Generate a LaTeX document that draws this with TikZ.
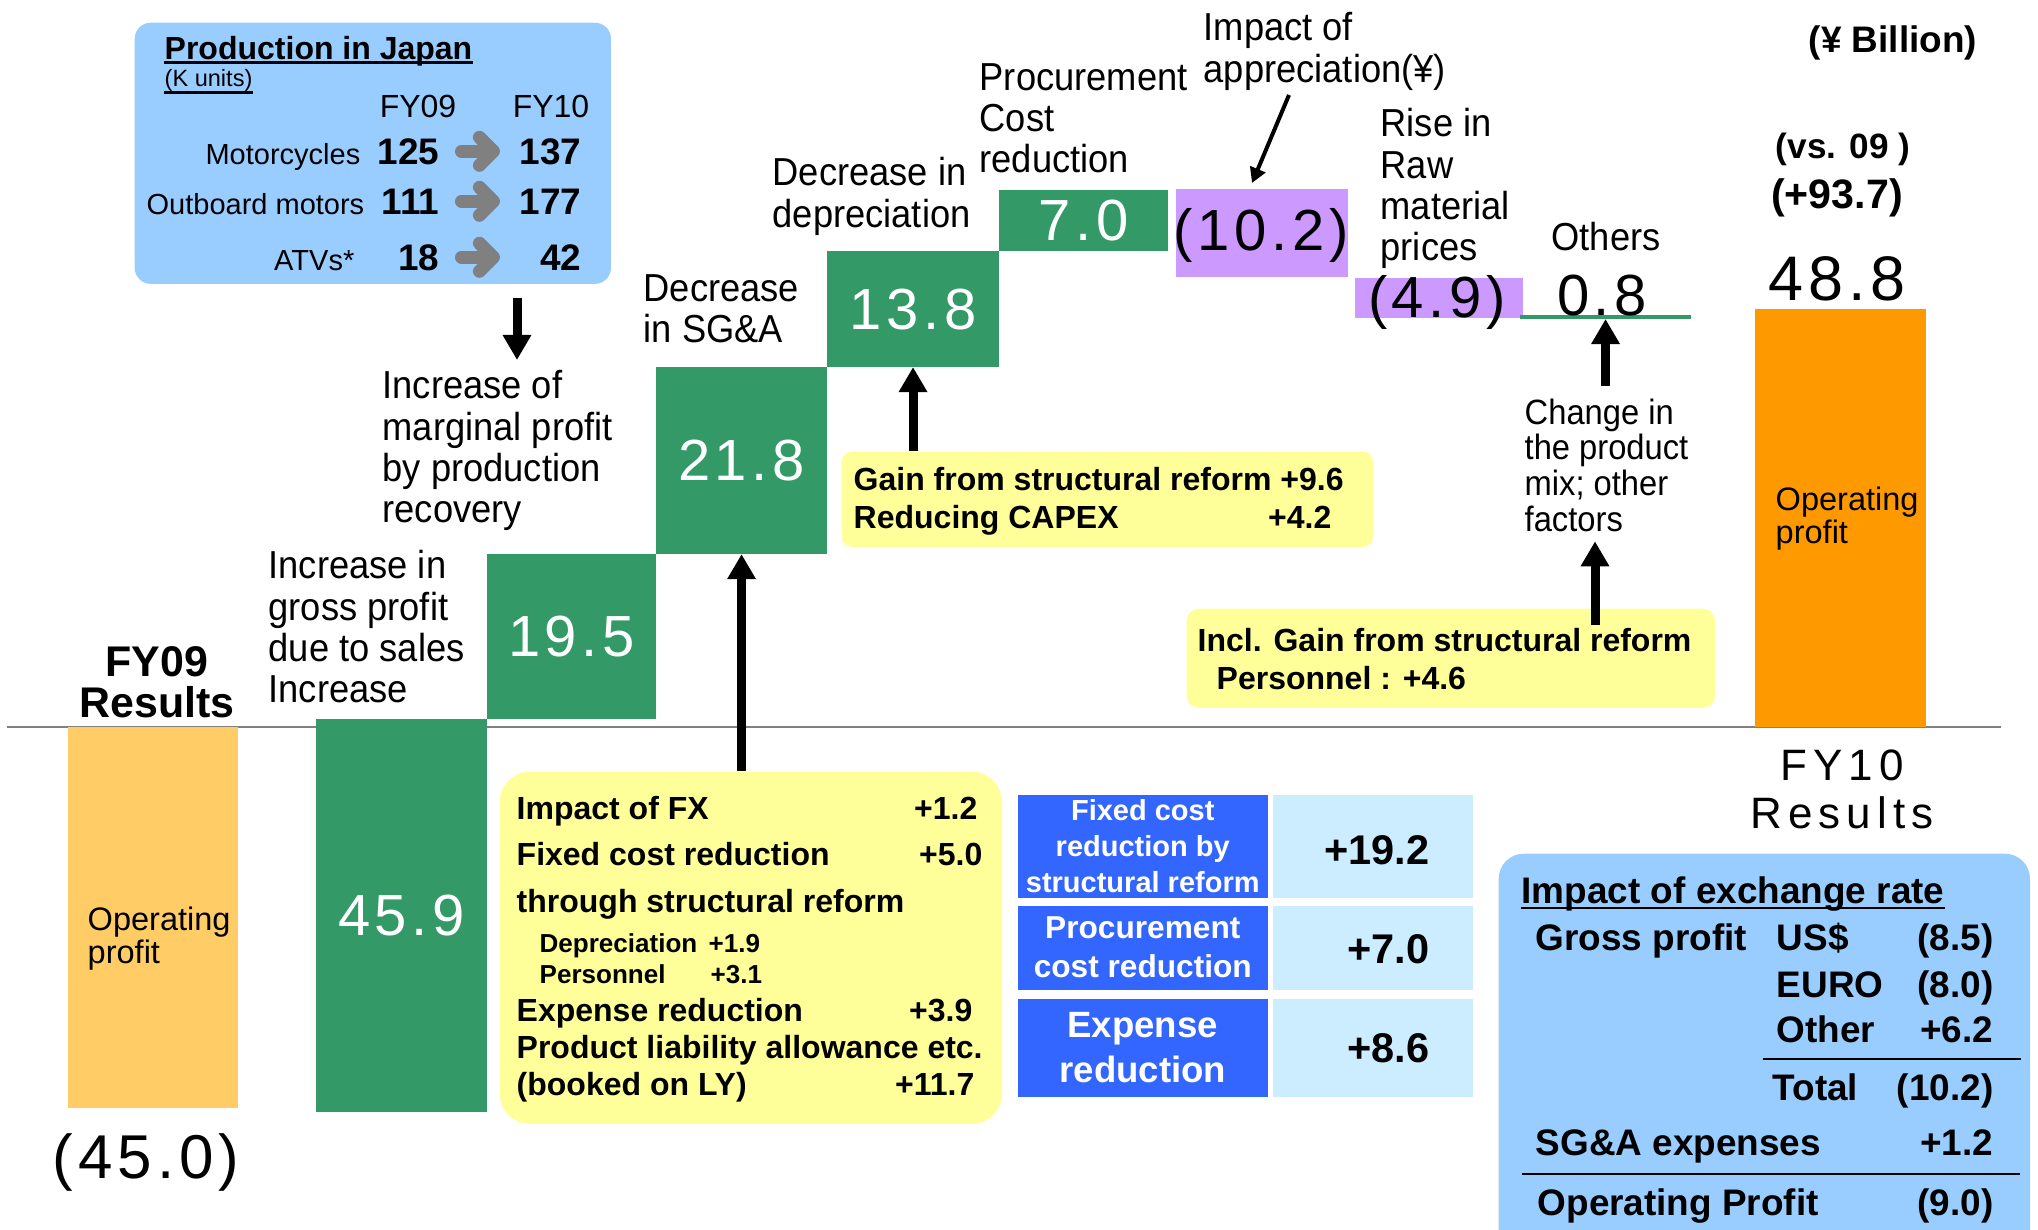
\documentclass[tikz,border=0pt]{standalone}
\usepackage{fontspec}
\setmainfont{Liberation Sans}
\newfontfamily\numfont[LetterSpace=8]{Liberation Sans}
\newfontfamily\widefont[LetterSpace=14]{Liberation Sans}
\newfontfamily\lblfont[FakeStretch=0.93]{Liberation Sans}
\usetikzlibrary{arrows.meta}
\definecolor{wfGreen}{HTML}{339966}
\definecolor{wfPurple}{HTML}{CC99FF}
\definecolor{wfOrange}{HTML}{FF9900}
\definecolor{wfPale}{HTML}{FFCC66}
\definecolor{noteYellow}{HTML}{FFFF99}
\definecolor{boxBlue}{HTML}{99CCFF}
\definecolor{cellBlue}{HTML}{3366FF}
\definecolor{cellPale}{HTML}{CCECFF}
\begin{document}
\begin{tikzpicture}
	[x=0.01cm,y=-0.01cm,
	 bar/.style={inner sep=0,outer sep=0,anchor=north west,text=white,font=\numfont\fontsize{16.5pt}{18pt}\selectfont},
	 val/.style={inner sep=0,anchor=base,font=\numfont\fontsize{16.5pt}{18pt}\selectfont},
	 lbl/.style={inner sep=0,anchor=north west,align=left,font=\lblfont\fontsize{11.1pt}{11.7pt}\selectfont},
	 oplbl/.style={inner sep=0,anchor=north west,align=left,font=\fontsize{9.25pt}{9.4pt}\selectfont},
	 note/.style={fill=noteYellow,inner sep=0,anchor=north west},
	 notetxt/.style={inner sep=0,font=\bfseries\fontsize{9.1pt}{10pt}\selectfont},
	 notesub/.style={inner sep=0,font=\bfseries\fontsize{7.4pt}{8pt}\selectfont},
	 cellD/.style={fill=cellBlue,text=white,inner sep=0,anchor=north west,align=center,minimum width=2.50cm},
	 cellL/.style={fill=cellPale,inner sep=0,anchor=north west,minimum width=2.00cm},
	 cellval/.style={inner sep=0,anchor=east,font=\bfseries\fontsize{11.8pt}{13pt}\selectfont},
	 fxt/.style={inner sep=0,font=\bfseries\fontsize{10.5pt}{12pt}\selectfont},
	 prodtxt/.style={inner sep=0,anchor=base east,font=\fontsize{8.25pt}{9pt}\selectfont},
	 prodnum/.style={inner sep=0,anchor=base east,font=\bfseries\fontsize{10.5pt}{12pt}\selectfont},
	 uline/.style={line width=0.025cm},
	 fatarr/.style={line width=0.09cm,-{Triangle[length=0.25cm,width=0.27cm]}},
	 thinarr/.style={line width=0.04cm,-{Triangle[length=0.15cm,width=0.16cm]}},
	 grayarr/.style={draw=gray,line width=0.13cm,line cap=round,-{Straight Barb[length=0.14cm,width=0.28cm,round]}}]
    \useasboundingbox (0,0) rectangle (2038,1230);
    \clip (0,0) rectangle (2038,1230);

    \draw[gray,line width=0.025cm] (7,727) -- (2001,727);

    \node[bar,fill=wfPale,minimum width=1.70cm,minimum height=3.81cm] (fy09) at (68,727) {};
    \node[bar,fill=wfGreen,minimum width=1.71cm,minimum height=3.93cm] (b459) at (316,719) {45.9};
    \node[bar,fill=wfGreen,minimum width=1.69cm,minimum height=1.65cm] (b195) at (487,554) {19.5};
    \node[bar,fill=wfGreen,minimum width=1.71cm,minimum height=1.87cm] (b218) at (656,367) {21.8};
    \node[bar,fill=wfGreen,minimum width=1.72cm,minimum height=1.16cm] (b138) at (827,251) {13.8};
    \node[bar,fill=wfGreen,minimum width=1.69cm,minimum height=0.61cm] (b070) at (999,190) {7.0};
    \node[bar,fill=wfPurple,minimum width=1.72cm,minimum height=0.88cm] (b102) at (1176,189) {};
    \node[bar,fill=wfPurple,minimum width=1.68cm,minimum height=0.40cm] (b049) at (1355,278) {};
    \node[bar,fill=wfGreen,minimum width=1.71cm,minimum height=0.04cm] (b008) at (1520,315) {};
    \node[bar,fill=wfOrange,minimum width=1.71cm,minimum height=4.18cm] (fy10) at (1755,309) {};

    \node[val] (v102) at (1261,250) {(10.2)};
    \node[val] (v049) at (1437,317) {(4.9)};
    \node[val] (v008) at (1602,315) {0.8};
    \node[val,font=\numfont\fontsize{17.9pt}{19pt}\selectfont] (v488) at (1837,300) {48.8};
    \node[val,font=\numfont\fontsize{17.6pt}{19pt}\selectfont] (v450) at (146,1178) {(45.0)};

    \node[inner sep=0,anchor=south,align=center,font=\bfseries\fontsize{12.2pt}{11.7pt}\selectfont] (t09) at (157,719) {FY09\\Results};
    \node[inner sep=0,anchor=south,align=center,font=\widefont\fontsize{12.5pt}{13.7pt}\selectfont] (t10) at (1842,830) {FY10\\Results};
    \node[oplbl] (op09) at (87,906) {Operating\\profit};
    \node[oplbl] (op10) at (1775,486) {Operating\\profit};

    \node[lbl] (l195) at (268,550) {Increase in\\gross profit\\due to sales\\Increase};
    \node[lbl] (l218) at (382,370) {Increase of\\marginal profit\\by production\\recovery};
    \node[lbl] (lsga) at (643,274) {Decrease\\in SG\&A};
    \node[lbl] (ldep) at (772,157) {Decrease in\\depreciation};
    \node[lbl] (lproc) at (979,63) {Procurement\\Cost\\reduction};
    \node[lbl] (limp) at (1203,12) {Impact of\\appreciation(¥)};
    \node[lbl] (lraw) at (1380,108) {Rise in\\Raw\\material\\prices};
    \node[lbl,anchor=base] (loth) at (1606,250) {Others};
    \node[lbl,font=\lblfont\fontsize{10pt}{10.15pt}\selectfont] (lchg) at (1524,398) {Change in\\the product\\mix; other\\factors};

    \node[inner sep=0,anchor=base,font=\bfseries\fontsize{10.5pt}{12pt}\selectfont] (unit) at (1893,52) {(¥ Billion)};
    \node[inner sep=0,anchor=base,font=\bfseries\fontsize{10pt}{12pt}\selectfont] (vs) at (1843,158) {(vs. 09 )};
    \node[inner sep=0,anchor=base,font=\bfseries\fontsize{11.7pt}{13pt}\selectfont] (diff) at (1837,208) {(+93.7)};

    \node[fill=boxBlue,rounded corners=0.16cm,minimum width=4.76cm,minimum height=2.61cm,anchor=north west,inner sep=0] (prod) at (134,22) {};
    \node[inner sep=0,anchor=base west,font=\bfseries\fontsize{9.1pt}{10pt}\selectfont] (ptitle) at (164,60) {Production in Japan};
    \node[inner sep=0,anchor=base west,font=\fontsize{6.7pt}{8pt}\selectfont] (punit) at (164,87) {(K units)};
    \draw[uline] ([yshift=-0.025cm]ptitle.base west) -- ([yshift=-0.025cm]ptitle.base east);
    \draw[uline] ([yshift=-0.055cm]punit.base west) -- ([yshift=-0.055cm]punit.base east);
    \node[inner sep=0,anchor=base,font=\fontsize{9.1pt}{10pt}\selectfont] (h09) at (418,117) {FY09};
    \node[inner sep=0,anchor=base,font=\fontsize{9.1pt}{10pt}\selectfont] (h10) at (551,117) {FY10};
    \node[prodtxt] (r1) at (361,164) {Motorcycles};
    \node[prodnum] (r1a) at (440,164) {125};
    \node[prodnum] (r1b) at (582,164) {137};
    \node[prodtxt] (r2) at (365,214) {Outboard motors};
    \node[prodnum] (r2a) at (440,214) {111};
    \node[prodnum] (r2b) at (582,214) {177};
    \node[prodtxt] (r3) at (355,270) {ATVs*};
    \node[prodnum] (r3a) at (440,270) {18};
    \node[prodnum] (r3b) at (582,270) {42};
    \draw[grayarr,shorten <=0.215cm,shorten >=0.82cm] (r1a.east) -- (r1a.east -| r1b.east);
    \draw[grayarr,shorten <=0.215cm,shorten >=0.82cm] (r2a.east) -- (r2a.east -| r2b.east);
    \draw[grayarr,shorten <=0.215cm,shorten >=0.82cm] (r3a.east) -- (r3a.east -| r3b.east);

    \node[note,minimum width=5.31cm,minimum height=0.95cm,rounded corners=0.1cm] (gain) at (841,451) {};
    \node[notetxt,anchor=base west] (g1) at (853,490) {Gain from structural reform +9.6};
    \node[notetxt,anchor=base west] (g2) at (853,528) {Reducing CAPEX};
    \node[notetxt,anchor=base east] (g2v) at (1332,528) {+4.2};

    \node[note,minimum width=5.28cm,minimum height=0.99cm,rounded corners=0.12cm] (incl) at (1186,608) {};
    \node[notetxt,anchor=base west] (i1) at (1197,651) {Incl. Gain from structural reform};
    \node[notetxt,anchor=base west] (i2) at (1216,689) {Personnel : +4.6};

    \node[note,minimum width=5.02cm,minimum height=3.52cm,rounded corners=0.3cm] (fxbox) at (499,771) {};
    \node[notetxt,anchor=base west] (f1) at (516,819) {Impact of FX};
    \node[notetxt,anchor=base east] (f1v) at (978,819) {+1.2};
    \node[notetxt,anchor=base west] (f2) at (516,865) {Fixed cost reduction};
    \node[notetxt,anchor=base east] (f2v) at (983,865) {+5.0};
    \node[notetxt,anchor=base west] (f3) at (516,912) {through structural reform};
    \node[notesub,anchor=base west] (f4) at (539,952) {Depreciation};
    \node[notesub,anchor=base west] (f4v) at (708,952) {+1.9};
    \node[notesub,anchor=base west] (f5) at (539,983) {Personnel};
    \node[notesub,anchor=base west] (f5v) at (710,983) {+3.1};
    \node[notetxt,anchor=base west] (f6) at (516,1021) {Expense reduction};
    \node[notetxt,anchor=base east] (f6v) at (973,1021) {+3.9};
    \node[notetxt,anchor=base west] (f7) at (516,1058) {Product liability allowance etc.};
    \node[notetxt,anchor=base west] (f8) at (516,1095) {(booked on LY)};
    \node[notetxt,anchor=base east] (f8v) at (975,1095) {+11.7};

    \node[cellD,minimum height=1.03cm,font=\bfseries\fontsize{8.25pt}{10.2pt}\selectfont] (c1) at (1017,794) {Fixed cost\\reduction by\\structural reform};
    \node[cellL,minimum height=1.03cm] (d1) at (1272,794) {};
    \node[cellD,minimum height=0.84cm,font=\bfseries\fontsize{9pt}{11.1pt}\selectfont] (c2) at (1017,905) {Procurement\\cost reduction};
    \node[cellL,minimum height=0.84cm] (d2) at (1272,905) {};
    \node[cellD,minimum height=0.98cm,font=\bfseries\fontsize{10.4pt}{12.8pt}\selectfont] (c3) at (1017,998) {Expense\\reduction};
    \node[cellL,minimum height=0.98cm] (d3) at (1272,998) {};
    \node[cellval] (d1v) at (1430,850) {+19.2};
    \node[cellval] (d2v) at (1430,949) {+7.0};
    \node[cellval] (d3v) at (1430,1048) {+8.6};

    \node[fill=boxBlue,rounded corners=0.25cm,minimum width=5.31cm,minimum height=4.2cm,anchor=north west,inner sep=0] (fxrate) at (1498,853) {};
    \node[fxt,anchor=base west] (x0) at (1521,903) {Impact of exchange rate};
    \draw[uline] ([yshift=-0.05cm]x0.base west) -- ([yshift=-0.05cm]x0.base east);
    \node[fxt,anchor=base west] (x1) at (1535,950) {Gross profit};
    \node[fxt,anchor=base west] (x1c) at (1776,950) {US\$};
    \node[fxt,anchor=base east] (x1v) at (1994,950) {(8.5)};
    \node[fxt,anchor=base west] (x2c) at (1776,997) {EURO};
    \node[fxt,anchor=base east] (x2v) at (1994,997) {(8.0)};
    \node[fxt,anchor=base west] (x3c) at (1776,1042) {Other};
    \node[fxt,anchor=base east] (x3v) at (1994,1042) {+6.2};
    \draw[line width=0.02cm] (1763,1059) -- (2021,1059);
    \node[fxt,anchor=base west] (x4c) at (1772,1100) {Total};
    \node[fxt,anchor=base east] (x4v) at (1994,1100) {(10.2)};
    \node[fxt,anchor=base west] (x5) at (1535,1155) {SG\&A expenses};
    \node[fxt,anchor=base east] (x5v) at (1994,1155) {+1.2};
    \draw[line width=0.02cm] (1522,1174) -- (2020,1174);
    \node[fxt,anchor=base west] (x6) at (1537,1215) {Operating Profit};
    \node[fxt,anchor=base east] (x6v) at (1994,1215) {(9.0)};

    \coordinate (pa) at (517,0);
    \coordinate (ia) at (1595,0);
    \coordinate (da) at (1289,95);
    \draw[fatarr,shorten <=0.13cm,shorten >=0.1cm] (prod.south -| pa) -- (pa |- l218.north);
    \draw[fatarr] (b138.south |- gain.north) -- (b138.south);
    \draw[fatarr] (b218.south |- fxbox.north) -- (b218.south);
    \draw[fatarr,shorten <=0.12cm] (b008.south |- lchg.north) -- (b008.south);
    \draw[fatarr,shorten >=0.09cm] ([yshift=-0.17cm]incl.north -| ia) -- (ia |- lchg.south);
    \draw[thinarr] (da) -- ([xshift=-0.1cm,yshift=0.06cm]b102.north);

\end{tikzpicture}
\end{document}
